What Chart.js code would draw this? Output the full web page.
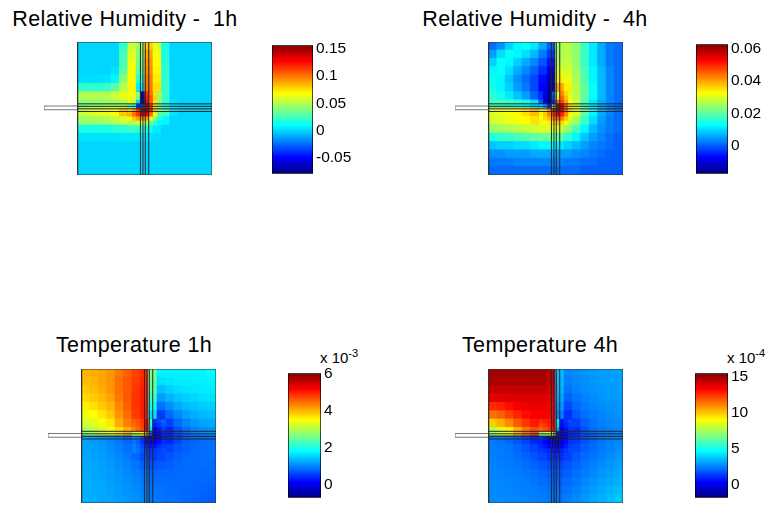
<!DOCTYPE html>
<html>
<head>
<meta charset="utf-8">
<script src="https://cdn.jsdelivr.net/npm/chart.js@4.4.1/dist/chart.umd.min.js"></script>
<style>
body { margin: 0; background: #fff; }
#page { position: relative; width: 772px; height: 508px; overflow: hidden; background: #fff;
  font-family: "Liberation Sans", Arial, Helvetica, sans-serif; color: #000; }
canvas { position: absolute; }
.title { position: absolute; width: 300px; text-align: center; font-size: 21.5px; line-height: 21px;
  letter-spacing: 0.4px; white-space: pre; }
.expo { position: absolute; font-size: 15px; line-height: 15px; white-space: pre; }
.expo span { position: relative; top: -6px; font-size: 11px; }
</style>
</head>
<body>
<div id="page">
  <div class="title" style="left:-25px; top:9px">Relative Humidity -  1h</div>
  <div class="title" style="left:385px; top:9px">Relative Humidity -  4h</div>
  <div class="title" style="left:-16px; top:335px">Temperature 1h</div>
  <div class="title" style="left:390px; top:335px">Temperature 4h</div>
  <div class="expo" style="left:320px; top:350px">x 10<span>-3</span></div>
  <div class="expo" style="left:727px; top:350px">x 10<span>-4</span></div>

  <canvas id="rh1h" width="169" height="135" style="left:44px; top:41px"></canvas>
  <canvas id="rh4h" width="169" height="135" style="left:455px; top:41px"></canvas>
  <canvas id="temp1h" width="169" height="136" style="left:48px; top:368px"></canvas>
  <canvas id="temp4h" width="169" height="136" style="left:455px; top:368px"></canvas>

  <canvas id="rh1hBar" width="87" height="153" style="left:272px; top:33px"></canvas>
  <canvas id="rh4hBar" width="78" height="154" style="left:696px; top:32px"></canvas>
  <canvas id="temp1hBar" width="79" height="149" style="left:288px; top:361px"></canvas>
  <canvas id="temp4hBar" width="79" height="149" style="left:695px; top:361px"></canvas>
</div>
<script>
// colour limits of each colorbar (temperatures in units of 1e-3 and 1e-4)
const rh1hRange = [-0.0785, 0.1557];
const rh4hRange = [-0.0177, 0.063];
const temp1hRange = [-0.73, 6.04];
const temp4hRange = [-1.84, 15.47];

const rh1hTicks = [-0.05, 0, 0.05, 0.1, 0.15];
const rh4hTicks = [0, 0.02, 0.04, 0.06];
const temp1hTicks = [0, 2, 4, 6];
const temp4hTicks = [0, 5, 10, 15];

// wall / floor junction, the square is 16 x 16 units
const wallX = [7.48, 7.78, 8.06, 8.47];
const floorY = [8.56, 8.26, 7.96, 7.64];
const stubX = [-4, 0];
const stubY = [8.3, 7.85];

// finer 8 x 8 patch around the corner: top-left corner and cell size in units
const fineOrigin = [6, 10];
const fineStep = 0.5;

// field values on a 16 x 16 grid, first row is the top of the square
const rh1hGrid = [
  [0, 0, 0, 0, 0, 0.02, 0.055, 0.045, 0.08, 0.06, 0.015, 0, 0, 0, 0, 0],
  [0, 0, 0, 0, 0, 0.025, 0.06, 0.04, 0.088, 0.065, 0.016, 0, 0, 0, 0, 0],
  [0, 0, 0, 0, 0, 0.025, 0.065, 0.035, 0.092, 0.068, 0.018, 0, 0, 0, 0, 0],
  [0, 0, 0, 0, 0.003, 0.03, 0.066, 0.03, 0.095, 0.07, 0.02, 0, 0, 0, 0, 0],
  [0.002, 0.002, 0.002, 0.003, 0.008, 0.04, 0.068, 0.02, 0.098, 0.072, 0.02, 0, 0, 0, 0, 0],
  [0.02, 0.02, 0.02, 0.022, 0.03, 0.05, 0.07, 0.005, 0.1, 0.075, 0.022, 0, 0, 0, 0, 0],
  [0.05, 0.05, 0.05, 0.05, 0.055, 0.062, 0.07, -0.03, 0.108, 0.078, 0.022, 0, 0, 0, 0, 0],
  [0.04, 0.042, 0.043, 0.044, 0.045, 0.048, 0.045, -0.06, 0.12, 0.07, 0.02, 0.002, 0, 0, 0, 0],
  [0.055, 0.058, 0.06, 0.062, 0.068, 0.08, 0.095, 0.125, 0.145, 0.08, 0.025, 0.003, 0, 0, 0, 0],
  [0.045, 0.045, 0.046, 0.048, 0.052, 0.058, 0.065, 0.07, 0.06, 0.03, 0.008, 0, 0, 0, 0, 0],
  [0.015, 0.015, 0.015, 0.016, 0.018, 0.02, 0.022, 0.02, 0.015, 0.005, 0, 0, 0, 0, 0, 0],
  [0.003, 0.003, 0.003, 0.003, 0.003, 0.004, 0.004, 0.004, 0.003, 0.001, 0, 0, 0, 0, 0, 0],
  [0, 0, 0, 0, 0, 0, 0, 0, 0, 0, 0, 0, 0, 0, 0, 0],
  [0, 0, 0, 0, 0, 0, 0, 0, 0, 0, 0, 0, 0, 0, 0, 0],
  [0, 0, 0, 0, 0, 0, 0, 0, 0, 0, 0, 0, 0, 0, 0, 0],
  [0, 0, 0, 0, 0, 0, 0, 0, 0, 0, 0, 0, 0, 0, 0, 0]
];

const rh1hFine = [
  [0.065, 0.065, 0.045, -0.065, 0.115, 0.1, 0.075, 0.045],
  [0.065, 0.062, 0.035, -0.07, 0.12, 0.105, 0.078, 0.045],
  [0.06, 0.055, 0, -0.075, 0.125, 0.105, 0.075, 0.04],
  [0.03, 0.02, -0.04, -0.03, 0.14, 0.115, 0.075, 0.035],
  [0.075, 0.09, 0.115, 0.145, 0.15, 0.12, 0.08, 0.04],
  [0.085, 0.1, 0.115, 0.135, 0.13, 0.1, 0.065, 0.03],
  [0.07, 0.08, 0.09, 0.095, 0.09, 0.065, 0.04, 0.018],
  [0.048, 0.052, 0.055, 0.055, 0.05, 0.035, 0.02, 0.008]
];

const rh4hGrid = [
  [0.001, 0.004, 0.009, 0.012, 0.013, 0.011, 0.006, 0, 0.026, 0.027, 0.024, 0.017, 0.011, 0.006, 0.002, 0.001],
  [0.005, 0.01, 0.013, 0.012, 0.01, 0.007, 0.002, -0.003, 0.026, 0.027, 0.024, 0.017, 0.011, 0.006, 0.002, 0.001],
  [0.009, 0.013, 0.012, 0.009, 0.006, 0.003, -0.001, -0.006, 0.027, 0.028, 0.024, 0.017, 0.011, 0.006, 0.002, 0.001],
  [0.012, 0.013, 0.01, 0.006, 0.003, 0, -0.004, -0.01, 0.03, 0.029, 0.025, 0.018, 0.012, 0.007, 0.003, 0.001],
  [0.013, 0.012, 0.008, 0.004, 0.001, -0.002, -0.007, -0.013, 0.034, 0.031, 0.026, 0.019, 0.012, 0.007, 0.003, 0.001],
  [0.014, 0.012, 0.009, 0.005, 0.002, -0.002, -0.008, -0.015, 0.04, 0.034, 0.027, 0.02, 0.013, 0.007, 0.003, 0.001],
  [0.016, 0.014, 0.011, 0.008, 0.005, 0, -0.006, -0.015, 0.046, 0.037, 0.027, 0.02, 0.013, 0.007, 0.003, 0.001],
  [0.018, 0.018, 0.017, 0.016, 0.014, 0.01, 0.003, -0.01, 0.052, 0.04, 0.028, 0.018, 0.011, 0.006, 0.003, 0.001],
  [0.03, 0.031, 0.032, 0.033, 0.035, 0.038, 0.043, 0.05, 0.056, 0.043, 0.03, 0.02, 0.012, 0.006, 0.003, 0.001],
  [0.029, 0.03, 0.031, 0.032, 0.033, 0.035, 0.038, 0.04, 0.04, 0.033, 0.025, 0.017, 0.01, 0.005, 0.002, 0.001],
  [0.024, 0.025, 0.026, 0.027, 0.028, 0.029, 0.03, 0.03, 0.029, 0.024, 0.018, 0.012, 0.007, 0.004, 0.002, 0.001],
  [0.015, 0.016, 0.017, 0.018, 0.019, 0.02, 0.021, 0.021, 0.02, 0.016, 0.012, 0.008, 0.005, 0.003, 0.001, 0],
  [0.008, 0.009, 0.009, 0.01, 0.01, 0.011, 0.012, 0.012, 0.011, 0.009, 0.007, 0.005, 0.003, 0.002, 0.001, 0],
  [0.004, 0.004, 0.005, 0.005, 0.005, 0.006, 0.006, 0.006, 0.005, 0.005, 0.004, 0.003, 0.002, 0.001, 0, 0],
  [0.002, 0.002, 0.002, 0.003, 0.003, 0.003, 0.003, 0.003, 0.003, 0.002, 0.002, 0.001, 0.001, 0, 0, 0],
  [0.001, 0.001, 0.001, 0.001, 0.001, 0.001, 0.001, 0.001, 0.001, 0.001, 0.001, 0, 0, 0, 0, 0]
];

const rh4hFine = [
  [-0.004, -0.01, -0.016, 0, 0.03, 0.042, 0.036, 0.03],
  [-0.004, -0.011, -0.017, -0.002, 0.035, 0.045, 0.038, 0.031],
  [0, -0.008, -0.017, -0.005, 0.045, 0.048, 0.04, 0.032],
  [0.01, 0.005, -0.005, 0.02, 0.058, 0.055, 0.045, 0.035],
  [0.03, 0.035, 0.042, 0.05, 0.06, 0.055, 0.046, 0.036],
  [0.033, 0.037, 0.042, 0.048, 0.055, 0.05, 0.042, 0.033],
  [0.033, 0.035, 0.038, 0.042, 0.046, 0.043, 0.037, 0.03],
  [0.031, 0.032, 0.034, 0.036, 0.038, 0.036, 0.032, 0.027]
];

const temp1hGrid = [
  [4.0, 4.05, 4.1, 4.2, 4.4, 4.55, 4.75, 4.9, 2.6, 1.75, 1.75, 1.75, 1.75, 1.75, 1.75, 1.8],
  [3.95, 4.0, 4.1, 4.2, 4.45, 4.6, 4.8, 4.95, 2.5, 1.6, 1.65, 1.7, 1.7, 1.7, 1.72, 1.75],
  [3.85, 3.95, 4.05, 4.2, 4.45, 4.6, 4.85, 5.0, 2.4, 1.4, 1.5, 1.58, 1.62, 1.65, 1.68, 1.7],
  [3.75, 3.85, 3.95, 4.1, 4.4, 4.6, 4.85, 5.0, 2.2, 1.15, 1.3, 1.42, 1.5, 1.55, 1.6, 1.62],
  [3.6, 3.7, 3.85, 4.0, 4.3, 4.55, 4.85, 5.0, 1.9, 0.85, 1.05, 1.22, 1.35, 1.42, 1.48, 1.5],
  [3.4, 3.5, 3.65, 3.85, 4.2, 4.45, 4.8, 5.0, 1.6, 0.5, 0.8, 1.02, 1.18, 1.28, 1.35, 1.38],
  [3.2, 3.3, 3.45, 3.65, 4.05, 4.35, 4.75, 5.0, 1.2, 0.2, 0.55, 0.82, 1.0, 1.12, 1.2, 1.25],
  [2.9, 3.05, 3.2, 3.4, 3.7, 4.0, 4.45, 4.6, 0.3, -0.1, 0.35, 0.65, 0.85, 0.98, 1.05, 1.1],
  [1.2, 1.15, 1.1, 1.02, 0.92, 0.78, 0.5, 0.05, -0.25, 0.05, 0.35, 0.55, 0.7, 0.78, 0.84, 0.86],
  [1.22, 1.18, 1.13, 1.06, 0.97, 0.86, 0.68, 0.4, 0.25, 0.38, 0.55, 0.68, 0.76, 0.81, 0.84, 0.86],
  [1.24, 1.2, 1.16, 1.1, 1.02, 0.93, 0.8, 0.62, 0.5, 0.58, 0.68, 0.76, 0.8, 0.83, 0.85, 0.85],
  [1.26, 1.22, 1.18, 1.13, 1.06, 0.99, 0.89, 0.76, 0.66, 0.7, 0.75, 0.8, 0.82, 0.84, 0.84, 0.83],
  [1.27, 1.24, 1.2, 1.15, 1.1, 1.03, 0.95, 0.86, 0.76, 0.78, 0.8, 0.82, 0.83, 0.83, 0.82, 0.81],
  [1.28, 1.25, 1.22, 1.17, 1.12, 1.07, 1.0, 0.92, 0.83, 0.83, 0.83, 0.83, 0.83, 0.82, 0.8, 0.78],
  [1.29, 1.26, 1.23, 1.19, 1.15, 1.1, 1.04, 0.97, 0.88, 0.87, 0.85, 0.84, 0.82, 0.8, 0.78, 0.75],
  [1.29, 1.27, 1.24, 1.21, 1.17, 1.12, 1.07, 1.01, 0.92, 0.9, 0.87, 0.85, 0.82, 0.79, 0.76, 0.73]
];

const temp1hFine = [
  [4.55, 4.65, 4.8, 5.3, 2.2, 0.5, 0.6, 0.8],
  [4.5, 4.6, 4.8, 5.3, 2.0, 0.3, 0.45, 0.65],
  [4.3, 4.5, 4.7, 5.2, 1.6, 0, 0.25, 0.5],
  [3.0, 3.2, 3.6, 4.0, 0.8, -0.3, 0.1, 0.4],
  [1.0, 0.9, 0.6, 0.2, -0.3, -0.3, 0.1, 0.35],
  [0.9, 0.75, 0.45, 0.1, -0.15, -0.05, 0.2, 0.42],
  [0.95, 0.82, 0.6, 0.35, 0.2, 0.25, 0.4, 0.52],
  [1.0, 0.9, 0.72, 0.55, 0.45, 0.48, 0.55, 0.62]
];

const temp4hGrid = [
  [14.9, 14.9, 14.9, 14.9, 14.9, 14.9, 14.9, 14.4, 3.6, 2.6, 2.7, 2.8, 2.9, 3.0, 3.0, 3.1],
  [14.7, 14.7, 14.7, 14.7, 14.7, 14.7, 14.7, 14.3, 3.5, 2.5, 2.65, 2.75, 2.85, 2.95, 3.0, 3.0],
  [14.3, 14.3, 14.3, 14.3, 14.3, 14.3, 14.3, 14.0, 3.4, 2.3, 2.55, 2.7, 2.8, 2.9, 2.95, 3.0],
  [13.7, 13.8, 13.9, 13.9, 13.9, 13.9, 13.9, 13.7, 3.2, 2.0, 2.35, 2.55, 2.7, 2.8, 2.9, 2.95],
  [12.6, 12.8, 13.1, 13.4, 13.6, 13.7, 13.7, 13.5, 2.9, 1.6, 2.1, 2.4, 2.6, 2.7, 2.8, 2.85],
  [11.4, 11.7, 12.2, 12.7, 13.1, 13.4, 13.5, 13.3, 2.5, 1.1, 1.8, 2.2, 2.45, 2.6, 2.7, 2.8],
  [9.8, 10.3, 11.0, 11.8, 12.4, 12.9, 13.2, 13.0, 2.0, 0.6, 1.4, 1.95, 2.3, 2.5, 2.6, 2.7],
  [7.6, 8.3, 9.2, 10.3, 11.3, 12.0, 12.5, 10.5, 0.5, 0.2, 1.1, 1.7, 2.1, 2.35, 2.5, 2.6],
  [2.4, 2.3, 2.1, 1.8, 1.4, 0.9, 0.4, -0.2, -0.3, 0.4, 1.2, 1.7, 2.0, 2.3, 2.5, 2.6],
  [2.45, 2.4, 2.25, 2.05, 1.75, 1.4, 1.0, 0.6, 0.6, 1.0, 1.5, 1.9, 2.15, 2.4, 2.55, 2.7],
  [2.5, 2.45, 2.35, 2.2, 2.0, 1.75, 1.45, 1.15, 1.1, 1.4, 1.8, 2.1, 2.3, 2.5, 2.7, 2.85],
  [2.55, 2.5, 2.45, 2.35, 2.2, 2.0, 1.8, 1.55, 1.5, 1.7, 2.0, 2.3, 2.5, 2.7, 2.85, 3.0],
  [2.6, 2.55, 2.5, 2.45, 2.35, 2.2, 2.05, 1.85, 1.8, 1.95, 2.2, 2.45, 2.65, 2.85, 3.0, 3.15],
  [2.65, 2.6, 2.55, 2.5, 2.45, 2.35, 2.2, 2.05, 2.0, 2.15, 2.35, 2.6, 2.8, 3.0, 3.15, 3.3],
  [2.7, 2.65, 2.6, 2.55, 2.5, 2.45, 2.35, 2.2, 2.15, 2.3, 2.5, 2.75, 2.95, 3.15, 3.35, 3.5],
  [2.7, 2.7, 2.65, 2.6, 2.55, 2.5, 2.45, 2.35, 2.3, 2.45, 2.65, 2.9, 3.1, 3.3, 3.5, 3.7]
];

const temp4hFine = [
  [12.6, 12.8, 13.0, 13.5, 4.5, 0.7, 1.2, 1.6],
  [12.1, 12.4, 12.7, 13.3, 4.0, 0.4, 0.9, 1.4],
  [11.5, 12.0, 12.4, 13.0, 3.2, 0, 0.6, 1.2],
  [7.0, 7.5, 8.0, 8.5, 0.5, -0.5, 0.3, 1.0],
  [1.2, 0.8, 0.2, -0.4, -0.8, -0.5, 0.3, 1.0],
  [0.8, 0.4, -0.1, -0.6, -0.7, -0.2, 0.5, 1.2],
  [1.0, 0.7, 0.4, 0, 0, 0.3, 0.8, 1.4],
  [1.3, 1.1, 0.9, 0.7, 0.6, 0.9, 1.2, 1.6]
];

const fontFamily = '"Liberation Sans", Arial, Helvetica, sans-serif';

// matlab style jet colormap, t in 0..1
function jet(t) {
  t = Math.min(1, Math.max(0, t));
  const f = (d) => Math.round(255 * Math.min(1, Math.max(0, 1.5 - Math.abs(4 * t - d))));
  return 'rgb(' + f(3) + ',' + f(2) + ',' + f(1) + ')';
}

// same colormap as a vertical gradient for the colorbar
function jetGradient(ctx) {
  const area = ctx.chart.chartArea;
  if (!area) return '#fff';
  const g = ctx.chart.ctx.createLinearGradient(0, area.bottom, 0, area.top);
  g.addColorStop(0, 'rgb(0,0,128)');
  g.addColorStop(0.125, 'rgb(0,0,255)');
  g.addColorStop(0.375, 'rgb(0,255,255)');
  g.addColorStop(0.625, 'rgb(255,255,0)');
  g.addColorStop(0.875, 'rgb(255,0,0)');
  g.addColorStop(1, 'rgb(128,0,0)');
  return g;
}

function lineSet(points, color) {
  return { data: points, showLine: true, fill: false, borderColor: color, borderWidth: 1,
    pointRadius: 0, order: 0 };
}

// one scatter dataset of square cells; x0/yTop is the top-left corner, step the cell size
function cellSet(grid, x0, yTop, step, range, order) {
  const cells = [];
  grid.forEach((row, r) => {
    row.forEach((v, c) => {
      cells.push({ x: x0 + (c + 0.5) * step, y: yTop - (r + 0.5) * step, v: v });
    });
  });
  return {
    data: cells,
    order: order,
    clip: 0,
    pointStyle: 'rect',
    pointBorderWidth: 0,
    // a bit larger than one cell so neighbours overlap and no seams show
    pointRadius: (ctx) => {
      const xs = ctx.chart.scales.x;
      return Math.abs(xs.getPixelForValue(step) - xs.getPixelForValue(0)) * 0.8;
    },
    pointBackgroundColor: (ctx) => {
      if (!ctx.raw) return '#fff';
      return jet((ctx.raw.v - range[0]) / (range[1] - range[0]));
    }
  };
}

function fieldChart(id, grid, fine, range) {
  const n = grid.length;
  const datasets = [];
  // layer boundaries of the wall and the floor
  wallX.forEach(x => datasets.push(lineSet([{ x: x, y: 0 }, { x: x, y: n }], '#262626')));
  floorY.forEach(y => datasets.push(lineSet([{ x: 0, y: y }, { x: n, y: y }], '#262626')));
  datasets.push(lineSet([{ x: 0, y: 0 }, { x: n, y: 0 }, { x: n, y: n }, { x: 0, y: n }, { x: 0, y: 0 }], '#333'));
  // thin slab sticking out on the left
  datasets.push(lineSet([
    { x: stubX[0], y: stubY[0] }, { x: stubX[1], y: stubY[0] },
    { x: stubX[1], y: stubY[1] }, { x: stubX[0], y: stubY[1] }, { x: stubX[0], y: stubY[0] }
  ], '#777'));

  datasets.push(cellSet(fine, fineOrigin[0], fineOrigin[1], fineStep, range, 1));
  datasets.push(cellSet(grid, 0, n, 1, range, 2));

  return new Chart(document.getElementById(id), {
    type: 'scatter',
    data: { datasets: datasets },
    options: {
      responsive: false,
      animation: false,
      events: [],
      layout: { padding: { top: 1, bottom: 1, right: 1, left: 0 }, autoPadding: false },
      plugins: { legend: { display: false }, tooltip: { enabled: false } },
      scales: {
        x: { type: 'linear', display: false, min: stubX[0], max: n },
        y: { type: 'linear', display: false, min: 0, max: n }
      }
    }
  });
}

function colorbarChart(id, range, ticks) {
  return new Chart(document.getElementById(id), {
    type: 'bar',
    data: {
      labels: [''],
      datasets: [{
        data: [range],
        backgroundColor: jetGradient,
        borderColor: '#000',
        borderWidth: 1,
        borderSkipped: false,
        barPercentage: 1,
        categoryPercentage: 1
      }]
    },
    options: {
      responsive: false,
      animation: false,
      events: [],
      layout: { padding: { top: 10, bottom: 10, left: 0, right: 0 } },
      plugins: { legend: { display: false }, tooltip: { enabled: false } },
      scales: {
        x: { display: false },
        y: {
          position: 'right',
          min: range[0],
          max: range[1],
          grid: { display: false, drawTicks: false, tickLength: 0 },
          border: { display: false },
          afterBuildTicks: (scale) => { scale.ticks = ticks.map(v => ({ value: v })); },
          afterFit: (scale) => { scale.width = 46; },
          ticks: {
            color: '#000',
            padding: 3,
            font: { family: fontFamily, size: 15.5 },
            callback: (v) => String(v)
          }
        }
      }
    }
  });
}

fieldChart('rh1h', rh1hGrid, rh1hFine, rh1hRange);
fieldChart('rh4h', rh4hGrid, rh4hFine, rh4hRange);
fieldChart('temp1h', temp1hGrid, temp1hFine, temp1hRange);
fieldChart('temp4h', temp4hGrid, temp4hFine, temp4hRange);

colorbarChart('rh1hBar', rh1hRange, rh1hTicks);
colorbarChart('rh4hBar', rh4hRange, rh4hTicks);
colorbarChart('temp1hBar', temp1hRange, temp1hTicks);
colorbarChart('temp4hBar', temp4hRange, temp4hTicks);
</script>
</body>
</html>
